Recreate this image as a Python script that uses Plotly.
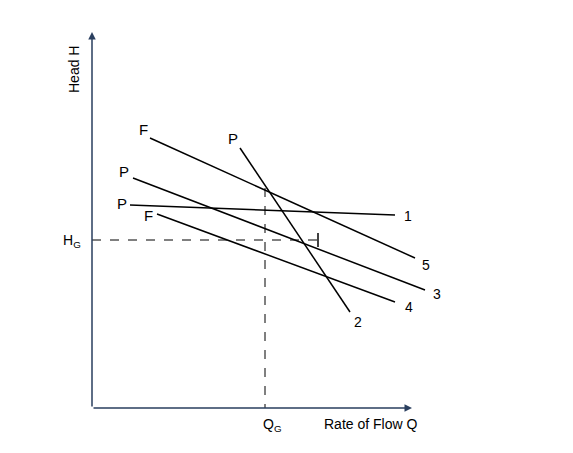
import plotly.graph_objects as go

# schematic curves (chart-space coords, origin at top-left like the drawing)
curve_names = ["1", "5", "3", "4", "2"]
curve_x0 = [130, 150, 133, 157, 240]
curve_y0 = [205, 138, 178, 214, 148]
curve_x1 = [395, 415, 425, 395, 350]
curve_y1 = [215, 258, 290, 302, 312]
start_labels = ["P", "F", "P", "F", "P"]
start_lx = [122, 143, 124, 148, 233]
start_ly = [203, 129, 171, 215, 138]
end_lx = [408, 426, 437, 409, 358]
end_ly = [216, 265, 294, 307, 322]
HG_y = 240
QG_x = 265
origin = (92, 408)

fig = go.Figure()
for i in range(len(curve_names)):
    fig.add_trace(go.Scatter(x=[curve_x0[i], curve_x1[i]], y=[curve_y0[i], curve_y1[i]],
                             mode="lines", line=dict(color="black", width=1.5), showlegend=False))
    fig.add_annotation(x=start_lx[i], y=start_ly[i], text=start_labels[i], showarrow=False,
                       font=dict(size=15, color="black", family="Liberation Sans"))
    fig.add_annotation(x=end_lx[i], y=end_ly[i], text=curve_names[i], showarrow=False,
                       font=dict(size=14, color="black", family="Liberation Sans"))

fig.add_trace(go.Scatter(x=[origin[0], 318], y=[HG_y, HG_y], mode="lines",
                         line=dict(color="black", width=1, dash="dash"), showlegend=False))
fig.add_trace(go.Scatter(x=[QG_x, QG_x], y=[188, origin[1]], mode="lines",
                         line=dict(color="black", width=1, dash="dash"), showlegend=False))
fig.add_trace(go.Scatter(x=[318, 318], y=[233, 247], mode="lines",
                         line=dict(color="black", width=1.5), showlegend=False))

# axes with arrows
fig.add_annotation(x=origin[0], y=32, ax=origin[0], ay=origin[1], xref="x", yref="y",
                   axref="x", ayref="y", showarrow=True, arrowhead=2, arrowwidth=1.5, text="")
fig.add_annotation(x=412, y=origin[1], ax=origin[0], ay=origin[1], xref="x", yref="y",
                   axref="x", ayref="y", showarrow=True, arrowhead=2, arrowwidth=1.5, text="")

fig.add_annotation(x=72, y=241, text="H<sub>G</sub>", showarrow=False, font=dict(size=14, color="black"))
fig.add_annotation(x=272, y=425, text="Q<sub>G</sub>", showarrow=False, font=dict(size=14, color="black"))
fig.add_annotation(x=370, y=424, text="Rate of Flow Q", showarrow=False, font=dict(size=14, color="black"))
fig.add_annotation(x=74, y=70, text="Head H", textangle=-90, showarrow=False, font=dict(size=14, color="black"))

fig.update_layout(width=573, height=453, margin=dict(l=0, r=0, t=0, b=0),
                  plot_bgcolor="white", paper_bgcolor="white",
                  font=dict(family="Liberation Sans"))
fig.update_xaxes(range=[8, 581], visible=False)
fig.update_yaxes(range=[461, 8], visible=False)
fig.write_html("out.html")
